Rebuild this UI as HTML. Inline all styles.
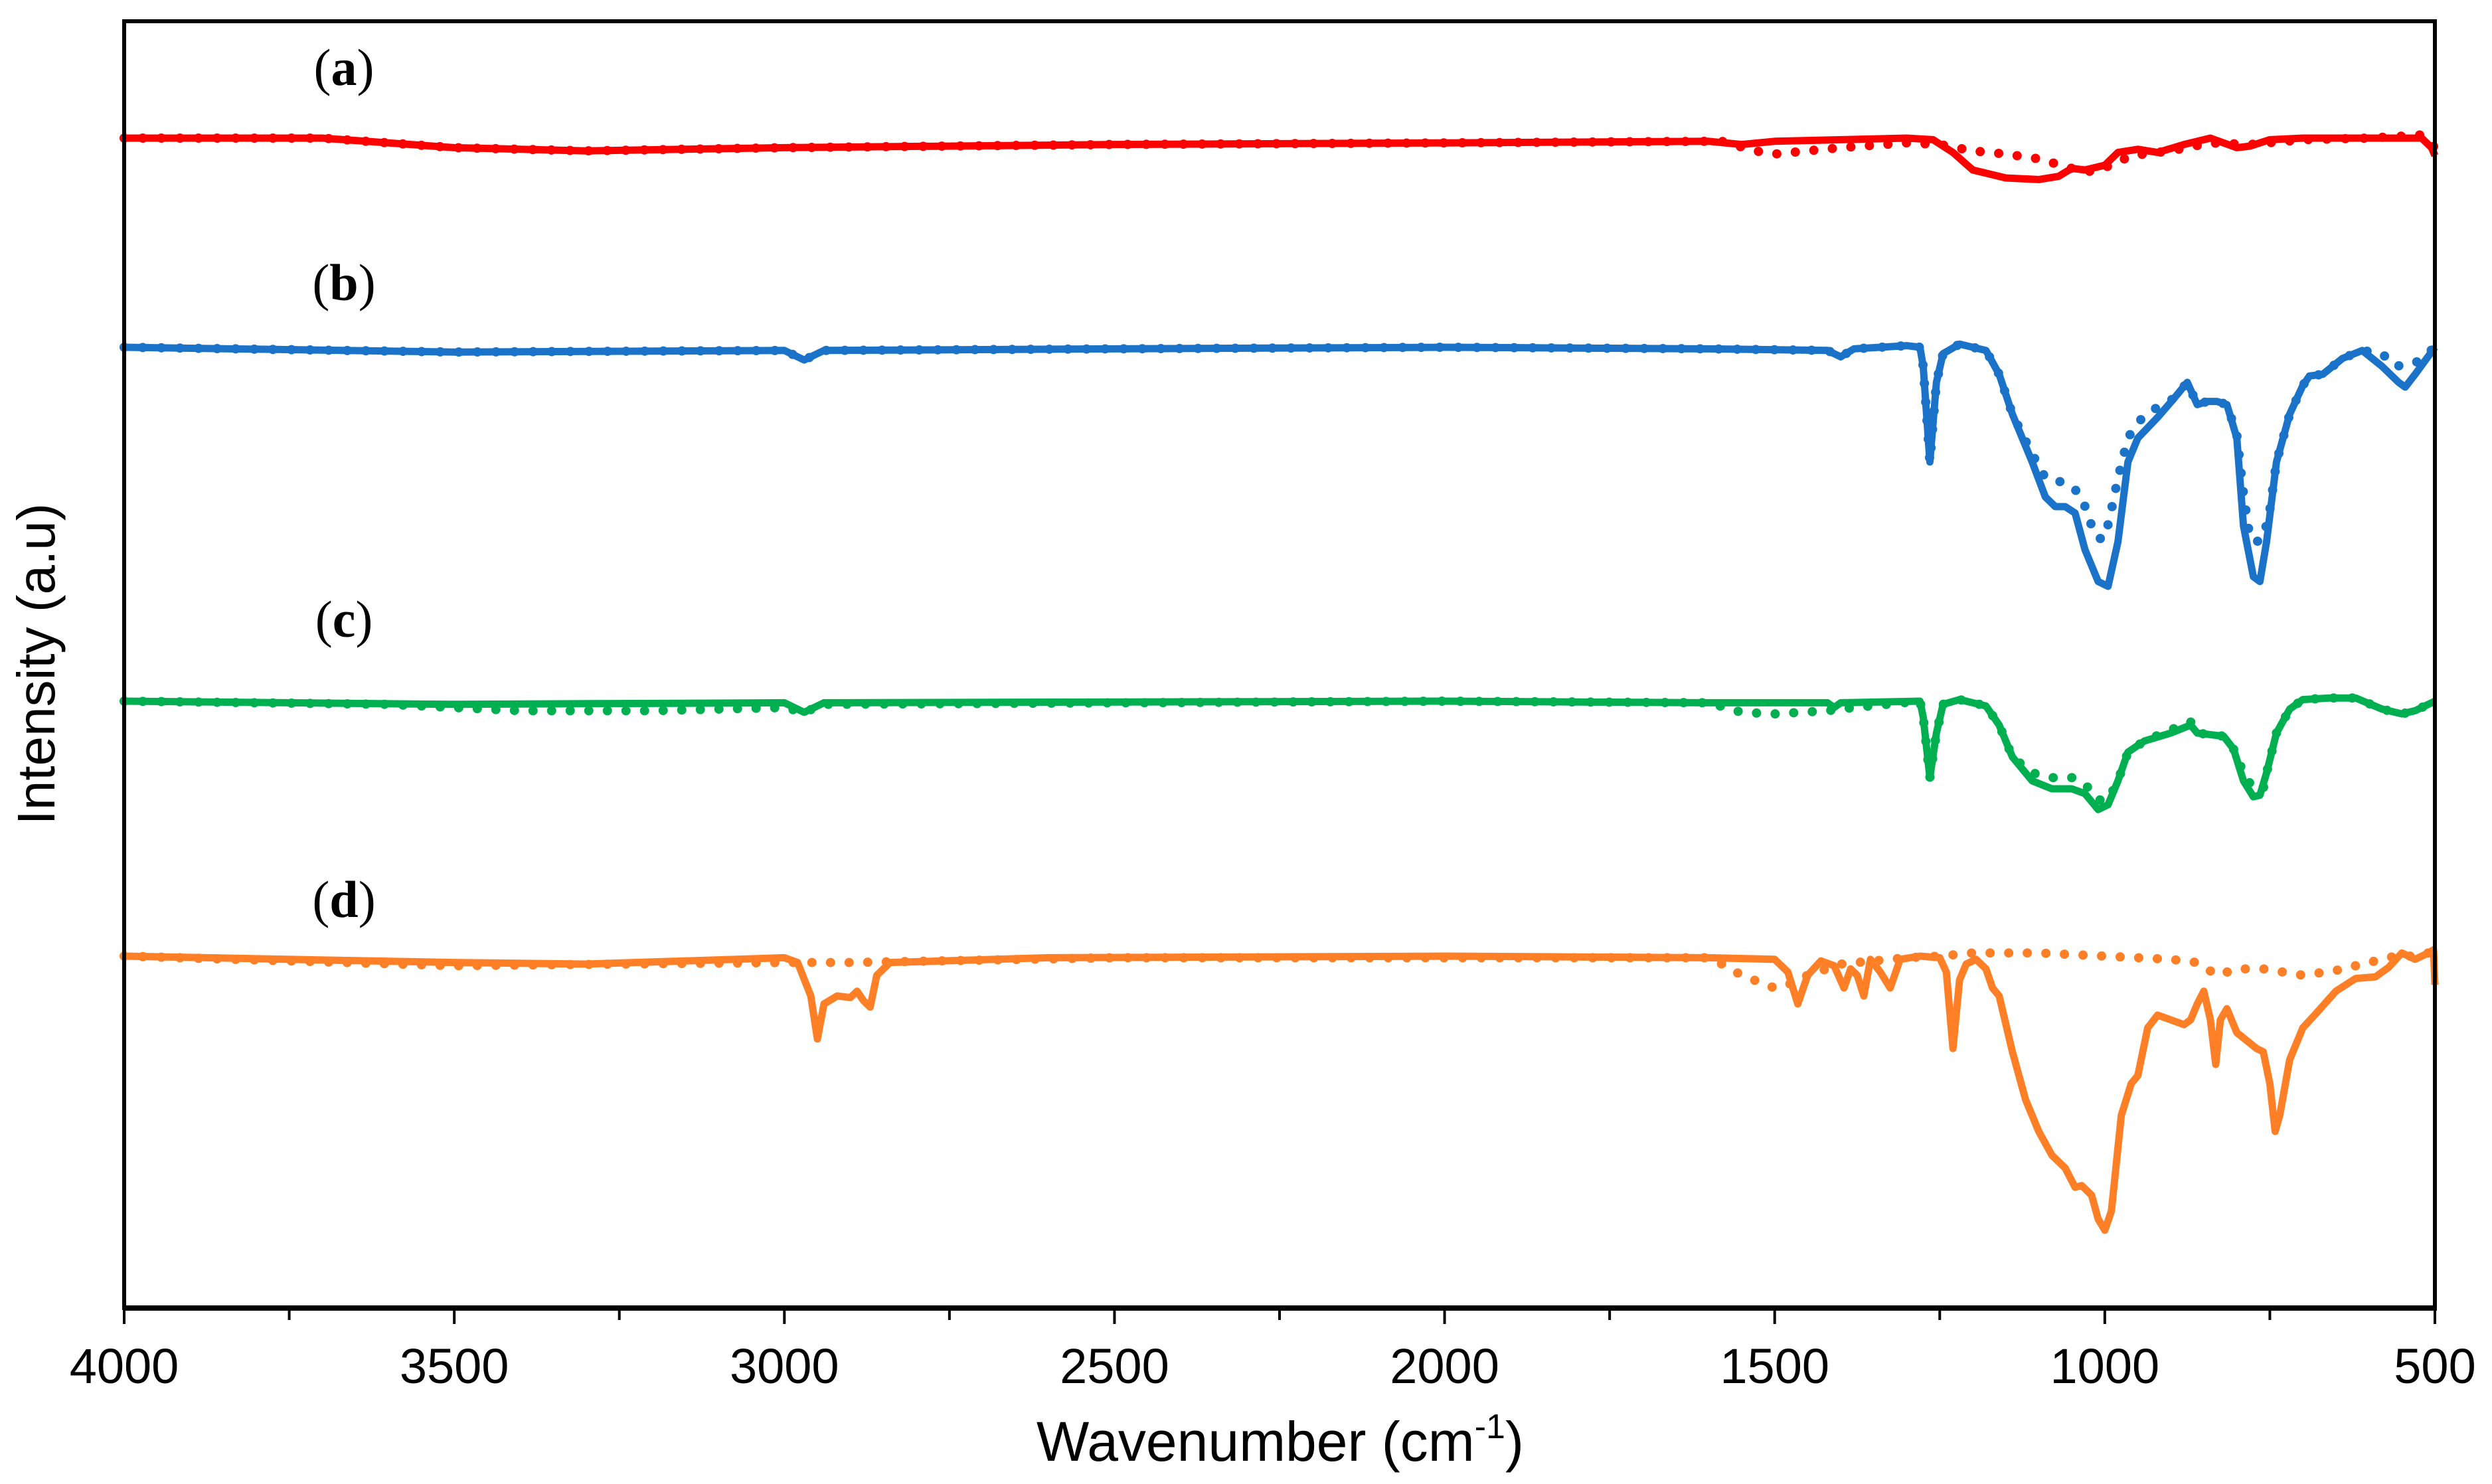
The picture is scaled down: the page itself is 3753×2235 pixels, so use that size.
<!DOCTYPE html>
<html><head><meta charset="utf-8">
<style>
html,body{margin:0;padding:0;background:#fff;}
svg{display:block;}
</style></head>
<body>
<svg id="chart" width="3753" height="2235" viewBox="0 0 3753 2235" xmlns="http://www.w3.org/2000/svg">
<rect width="3753" height="2235" fill="#fff"/>
<g id="series"></g>
<rect x="187" y="32" width="3480" height="1938" fill="none" stroke="#000" stroke-width="6"/>
<line x1="185" y1="1970" x2="3670" y2="1970" stroke="#000" stroke-width="8"/>
<g id="ticks"></g>
<text x="1928" y="2200" font-family="'Liberation Sans',sans-serif" font-size="84" text-anchor="middle">Wavenumber (cm<tspan font-size="52" dy="-34">-1</tspan><tspan dy="34">)</tspan></text>
<text transform="translate(82,1000) rotate(-90)" font-family="'Liberation Sans',sans-serif" font-size="80" text-anchor="middle">Intensity (a.u)</text>
<g font-family="'Liberation Serif',serif" font-size="78" text-anchor="middle">
<text x="518" y="128">(<tspan font-weight="bold">a</tspan>)</text>
<text x="518" y="452">(<tspan font-weight="bold">b</tspan>)</text>
<text x="518" y="959">(<tspan font-weight="bold">c</tspan>)</text>
<text x="518" y="1381">(<tspan font-weight="bold">d</tspan>)</text>
</g>
</svg>
<script>
// x-axis ticks
const tickLabels = [4000,3500,3000,2500,2000,1500,1000,500];
const minorTicks = [3750,3250,2750,2250,1750,1250,750];
// series data: [wavenumber, intensity offset (a.u., downward = absorption)]
const aSolidW = [4000,3700,3500,3300,3000,2500,2000,1600,1550,1500,1300,1260,1230,1200,1150,1100,1070,1050,1030,1000,980,950,920,880,840,800,780,750,700,600,520,505,500];
const aSolidV = [0,0,6,8,6,4,3,2,4,2,0,1,9,20,25,26,24,19,20,17,9,7,9,4,0,6,5,1,0,0,0,6,11];
const aDotW = [4000,3700,3500,3300,3000,2500,2000,1600,1580,1530,1500,1450,1400,1300,1250,1200,1150,1100,1050,1020,990,960,900,840,780,700,600,520,500];
const aDotV = [0,0,6,8,6,4,3,2,2,8,10,8,6,3,4,8,10,13,19,21,17,11,8,3,4,1,0,-2,6];
const bSolidW = [4000,3500,3000,2970,2940,2500,2000,1600,1420,1400,1380,1300,1280,1275,1265,1255,1245,1220,1180,1160,1140,1110,1090,1075,1060,1045,1030,1010,995,980,965,950,920,895,875,860,845,830,815,800,790,775,765,755,740,720,700,690,670,640,610,580,555,545,530,500];
const bSolidV = [0,3,2,8,2,1,0,1,2,6,1,-1,0,12,72,22,4,-2,2,17,42,72,94,100,100,104,127,147,150,122,72,57,44,32,22,36,34,34,36,57,112,144,147,122,72,42,24,18,17,7,2,12,22,25,17,0];
const bDotW = [4000,3500,3000,2970,2940,2500,2000,1600,1420,1400,1380,1300,1280,1275,1265,1255,1245,1220,1180,1160,1140,1110,1090,1070,1050,1035,1020,1010,1000,990,980,965,950,930,895,875,860,845,830,815,800,790,780,770,760,750,740,720,700,690,670,640,610,580,560,530,500];
const bDotV = [0,3,2,8,2,1,0,1,2,6,1,-1,0,12,72,22,4,-2,2,17,42,67,82,84,87,94,112,120,120,102,82,57,47,40,32,22,36,34,34,36,55,92,120,122,120,102,72,42,24,18,17,7,2,4,12,10,0];
const cSolidW = [4000,3500,3000,2970,2940,2000,1600,1420,1410,1400,1280,1275,1265,1255,1245,1220,1180,1160,1140,1110,1080,1050,1030,1010,995,980,965,940,900,870,860,840,820,805,790,775,765,755,740,720,700,660,620,580,550,530,500];
const cSolidV = [0,2,1,7,1,0,1,1,4,1,0,10,48,20,2,-1,3,15,35,50,55,55,58,68,65,50,32,25,20,15,20,21,22,30,50,60,59,45,20,5,-1,-2,-2,5,8,6,0];
const cDotW = [4000,3600,3400,3200,3000,2970,2940,2000,1600,1550,1500,1420,1380,1280,1275,1265,1255,1245,1220,1180,1160,1140,1110,1080,1050,1030,1010,995,980,965,940,900,870,860,840,820,805,790,775,760,755,740,720,700,660,620,580,550,530,500];
const cDotV = [0,2,6,6,4,7,2,0,1,7,8,6,4,0,10,48,20,2,-1,3,15,35,45,48,48,52,62,62,50,32,25,18,13,20,21,22,30,45,55,55,45,20,5,-1,-2,-2,5,8,6,0];
const dSolidW = [4000,3500,3300,3000,2980,2960,2950,2940,2920,2900,2890,2880,2870,2860,2840,2600,2000,1600,1500,1480,1465,1450,1430,1410,1395,1385,1375,1365,1355,1340,1325,1310,1280,1250,1240,1230,1220,1210,1195,1180,1170,1160,1140,1120,1100,1080,1060,1045,1035,1020,1010,1000,990,975,960,950,935,920,900,880,870,860,850,840,832,825,815,800,785,770,760,750,742,735,720,700,680,650,620,590,570,550,530,510,502,500];
const dSolidV = [0,4,5,1,4,25,52,30,25,26,22,28,32,12,4,1,0,1,2,10,30,12,3,6,20,8,12,25,2,10,20,2,0,1,10,58,15,5,2,8,20,25,60,90,110,125,133,145,144,150,165,172,160,100,80,75,45,37,40,43,40,30,22,40,68,40,33,48,53,58,60,80,110,100,65,45,36,22,14,13,7,-2,2,-2,-4,18];
const dDotW = [4000,3500,3000,2900,2500,1600,1580,1550,1500,1480,1450,1400,1300,1250,1200,1100,1000,900,860,830,800,760,700,650,600,560,520,500];
const dDotV = [0,6,4,4,1,1,5,12,20,18,12,5,1,0,-2,-2,0,2,4,12,8,8,12,9,4,0,0,-4];

const X0=187, X1=3667, W0=4000, W1=500, UNIT=2.4;
function xs(w){return X0+(W0-w)/(W0-W1)*(X1-X0);}
function ys(base,v){return base+v*UNIT;}
const NS="http://www.w3.org/2000/svg";
const series=[
 {name:'a',color:'#ff0000',base:208,sw:aSolidW,sv:aSolidV,dw:aDotW,dv:aDotV},
 {name:'b',color:'#1a73c8',base:523,sw:bSolidW,sv:bSolidV,dw:bDotW,dv:bDotV},
 {name:'c',color:'#00b050',base:1056,sw:cSolidW,sv:cSolidV,dw:cDotW,dv:cDotV},
 {name:'d',color:'#ff7f27',base:1440,sw:dSolidW,sv:dSolidV,dw:dDotW,dv:dDotV}
];
const g=document.getElementById('series');
function pathD(ws,vs,base){let d='';for(let i=0;i<ws.length;i++){d+=(i?'L':'M')+xs(ws[i]).toFixed(1)+','+ys(base,vs[i]).toFixed(1);}return d;}
series.forEach(s=>{
  const dp=document.createElementNS(NS,'path');
  
  
  dp.setAttribute('d',pathD(s.dw,s.dv,s.base));
  dp.setAttribute('fill','none');dp.setAttribute('stroke',s.color);
  dp.setAttribute('stroke-width','14');dp.setAttribute('stroke-linecap','round');
  dp.setAttribute('stroke-dasharray','0 28');
  g.appendChild(dp);
  const sp=document.createElementNS(NS,'path');
  
  
  sp.setAttribute('d',pathD(s.sw,s.sv,s.base));
  sp.setAttribute('fill','none');sp.setAttribute('stroke',s.color);
  sp.setAttribute('stroke-width','11');sp.setAttribute('stroke-linejoin','round');
  g.appendChild(sp);
});
const tg=document.getElementById('ticks');
tickLabels.forEach(w=>{
  const l=document.createElementNS(NS,'line');
  
  
  l.setAttribute('x1',xs(w));l.setAttribute('x2',xs(w));l.setAttribute('y1',1970);l.setAttribute('y2',1994);
  l.setAttribute('stroke','#000');l.setAttribute('stroke-width','4');
  tg.appendChild(l);
  const t=document.createElementNS(NS,'text');
  
  
  t.setAttribute('x',xs(w));t.setAttribute('y',2083);
  t.setAttribute('font-family',"'Liberation Sans',sans-serif");t.setAttribute('font-size','74');
  t.setAttribute('text-anchor','middle');
  t.textContent=w;
  tg.appendChild(t);
});
minorTicks.forEach(w=>{
  const l=document.createElementNS(NS,'line');
  
  
  l.setAttribute('x1',xs(w));l.setAttribute('x2',xs(w));l.setAttribute('y1',1970);l.setAttribute('y2',1988);
  l.setAttribute('stroke','#000');l.setAttribute('stroke-width','4');
  tg.appendChild(l);
});
</script>
</body></html>
